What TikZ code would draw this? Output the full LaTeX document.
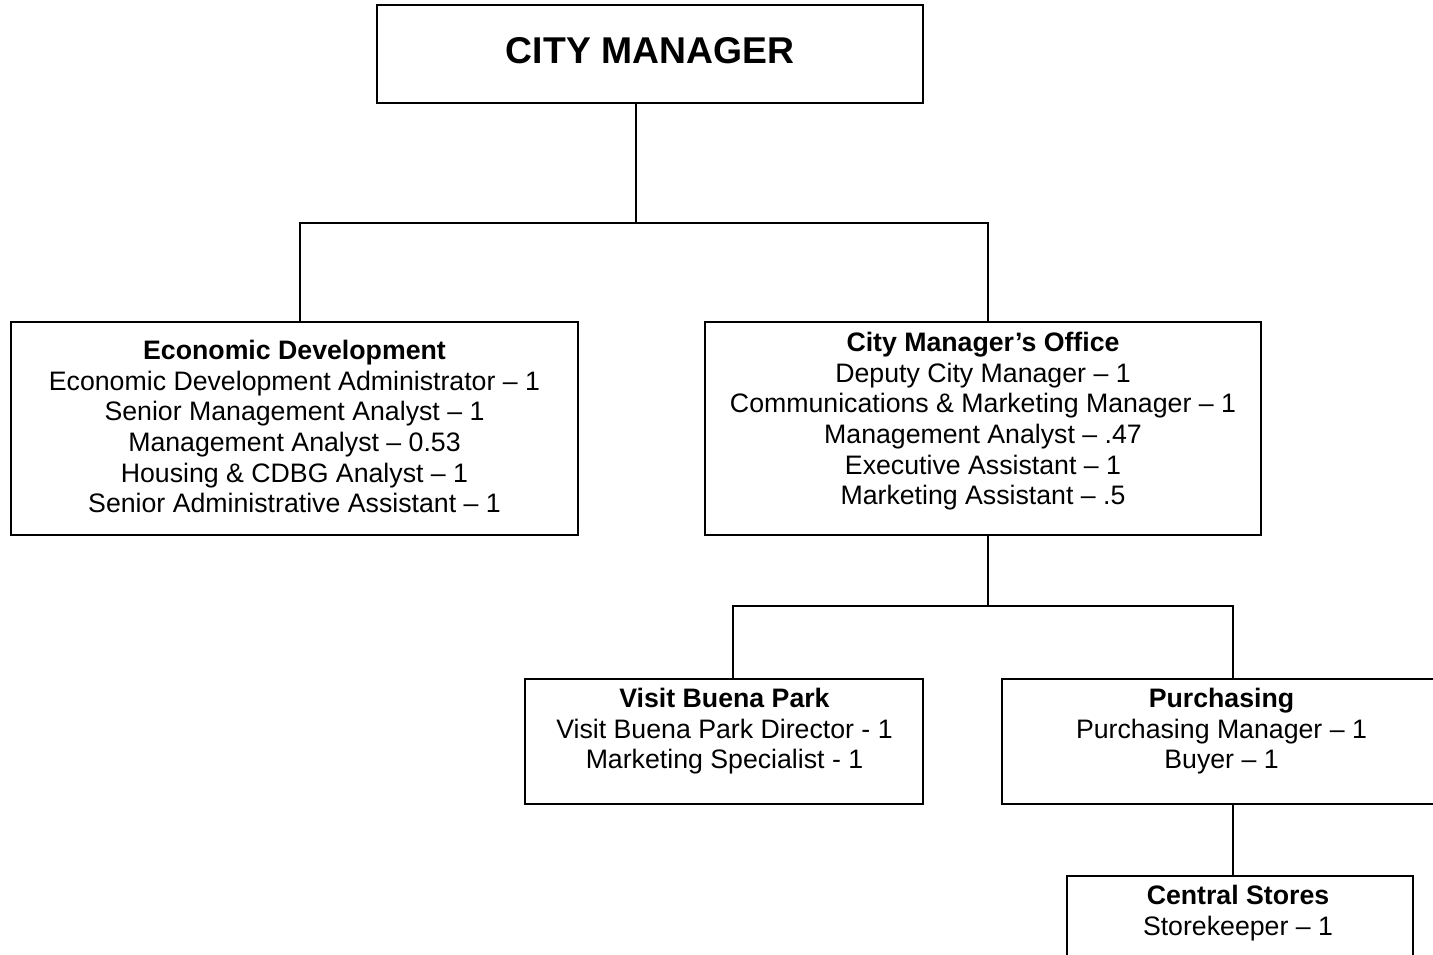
\documentclass[tikz,border=0pt]{standalone}
\usepackage{fontspec}
\setmainfont{Liberation Sans}
\begin{document}
\begin{tikzpicture}[x=1pt,y=-1pt,
  box/.style={draw=black, line width=2pt, rectangle, inner sep=0pt, fill=white},
  conn/.style={draw=black, line width=2pt},
  txt/.style={align=center, inner sep=0pt, font=\fontsize{26.7}{30.7}\selectfont, anchor=north},
  ttl/.style={inner sep=0pt, font=\fontsize{37.3}{43}\selectfont\bfseries, anchor=base}]
\useasboundingbox (0,0) rectangle (1433,954);
\clip (0,0) rectangle (1433,954);
% boxes
\node[box, minimum width=546pt, minimum height=98pt] (cm) at (650,54) {};
\node[box, minimum width=567pt, minimum height=213pt] (ed) at (294.5,428.5) {};
\node[box, minimum width=556pt, minimum height=213pt] (cmo) at (983,428.5) {};
\node[box, minimum width=398pt, minimum height=125pt] (vbp) at (724,741.5) {};
\node[box, minimum width=439pt, minimum height=125pt] (pur) at (1221.5,741.5) {};
\node[box, minimum width=346pt, minimum height=130pt] (cs) at (1240,941) {};
% junctions
\coordinate (j1) at (636,223);
\coordinate (j2) at (988,606);
% connectors
\draw[conn] ([xshift=-14pt]cm.south) -- (j1);
\draw[conn] ([xshift=5.5pt]ed.north) |- ([xshift=5pt]cmo.north |- j1) -- ([xshift=5pt]cmo.north);
\draw[conn] ([xshift=5pt]cmo.south) -- (j2);
\draw[conn] ([xshift=9pt]vbp.north) |- ([xshift=11.5pt]pur.north |- j2) -- ([xshift=11.5pt]pur.north);
\draw[conn] ([xshift=11.5pt]pur.south) -- ([xshift=-7pt]cs.north);
% texts
\node[ttl] (cmt) at (650,63.4) {CITY MANAGER};
\node[txt] (edt) at (294.5,339.8) {\textbf{Economic Development}\\
Economic Development Administrator – 1\\
Senior Management Analyst – 1\\
Management Analyst – 0.53\\
Housing \& CDBG Analyst – 1\\
Senior Administrative Assistant – 1};
\node[txt] (cmot) at (983,331.8) {\textbf{City Manager’s Office}\\
Deputy City Manager – 1\\
Communications \& Marketing Manager – 1\\
Management Analyst – .47\\
Executive Assistant – 1\\
Marketing Assistant – .5};
\node[txt] (vbpt) at (724.5,687.8) {\textbf{Visit Buena Park}\\
Visit Buena Park Director - 1\\
Marketing Specialist - 1};
\node[txt] (purt) at (1221.5,687.8) {\textbf{Purchasing}\\
Purchasing Manager – 1\\
Buyer – 1};
\node[txt] (cst) at (1238,884.8) {\textbf{Central Stores}\\
Storekeeper – 1};
\end{tikzpicture}
\end{document}
